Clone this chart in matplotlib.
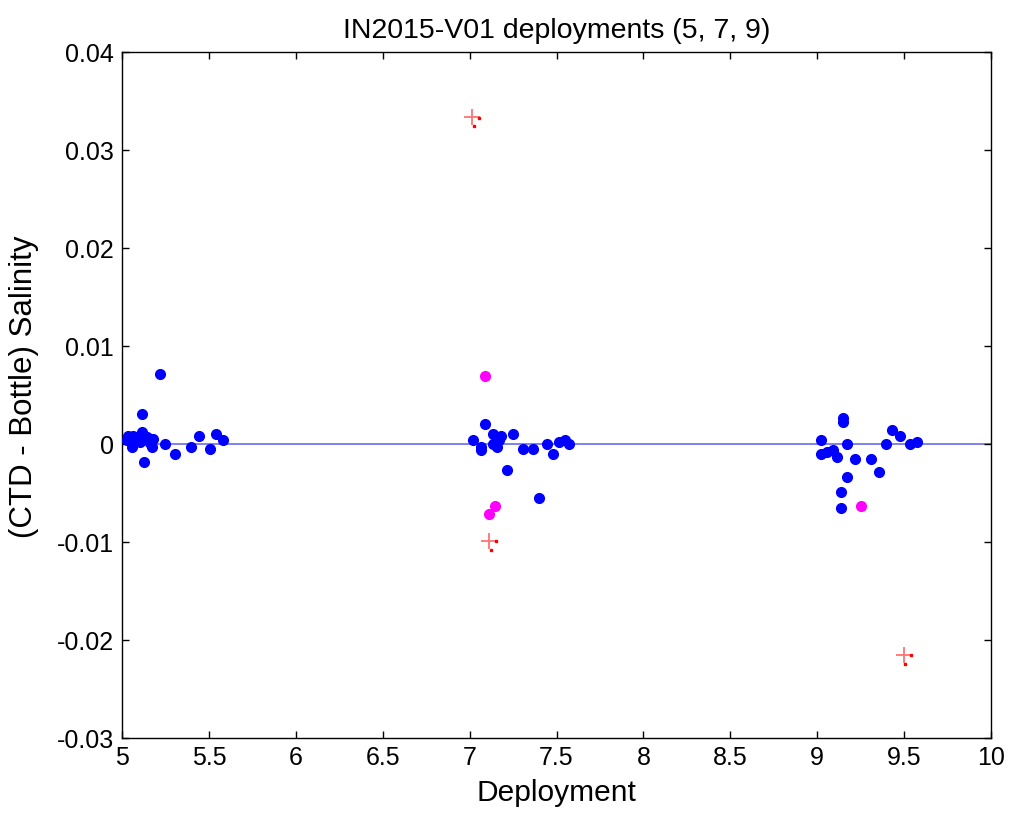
import matplotlib
matplotlib.use("Agg")
import matplotlib.pyplot as plt
import matplotlib.transforms as mtransforms
import numpy as np

plt.rcParams['font.family'] = ['Liberation Sans', 'DejaVu Sans']

# good samples (blue)
good_x = [5.219, 5.117, 5.036, 5.062, 5.027, 5.059, 5.085, 5.117, 5.142, 5.180,
          5.175, 5.129, 5.249, 5.307, 5.397, 5.441, 5.508, 5.543, 5.580, 5.104, 5.160,
          7.087, 7.018, 7.064, 7.064, 7.133, 7.179, 7.171, 7.133, 7.160, 7.248,
          7.213, 7.305, 7.362, 7.443, 7.477, 7.512, 7.549, 7.570, 7.397,
          9.147, 9.147, 9.020, 9.020, 9.055, 9.089, 9.115, 9.169, 9.217, 9.307,
          9.172, 9.353, 9.137, 9.137, 9.396, 9.431, 9.477, 9.534, 9.572]
good_y = [0.00716, 0.00308, 0.00077, 0.00077, 0.00036, -0.00026, 0.00036, 0.00120, 0.00070, 0.00050,
          -0.00026, -0.00186, -0.00005, -0.00107, -0.00026, 0.00077, -0.00046, 0.00104, 0.00036, 0.00020, 0.00010,
          0.00206, 0.00036, -0.00026, -0.00066, 0.00104, 0.00077, 0.00043, -0.00005, -0.00033, 0.00104,
          -0.00263, -0.00046, -0.00046, -0.00005, -0.00107, 0.00022, 0.00043, -0.00005, -0.00549,
          0.00267, 0.00222, 0.00036, -0.00107, -0.00084, -0.00059, -0.00128, 0.00002, -0.00148, -0.00148,
          -0.00332, -0.00288, -0.00492, -0.00651, 0.00002, 0.00145, 0.00077, -0.00005, 0.00018]

# questionable samples (magenta)
flag_x = [7.087, 7.144, 7.110, 9.253]
flag_y = [0.00696, -0.00635, -0.00716, -0.00635]

# rejected samples (red crosses)
bad_x = [7.014, 7.112, 9.499]
bad_y = [0.03335, -0.00985, -0.02151]

xticks = [5, 5.5, 6, 6.5, 7, 7.5, 8, 8.5, 9, 9.5, 10]
xticklabels = ['5', '5.5', '6', '6.5', '7', '7.5', '8', '8.5', '9', '9.5', '10']
yticks = [-0.03, -0.02, -0.01, 0, 0.01, 0.02, 0.03, 0.04]
yticklabels = ['-0.03', '-0.02', '-0.01', '0', '0.01', '0.02', '0.03', '0.04']

fig = plt.figure(figsize=(10.11, 8.21), dpi=100)
ax = fig.add_axes([122 / 1011, 1 - 738 / 821, (991 - 122) / 1011, (738 - 52) / 821])

ax.axhline(0, color='#6a6af0', lw=1.2, zorder=1)
ax.plot(good_x, good_y, 'o', color='#0000ff', ms=7, mec='#0000ff', zorder=3)
ax.plot(flag_x, flag_y, 'o', color='#ff00ff', ms=7, mec='#ff00ff', zorder=3)
ax.plot(bad_x, bad_y, '+', color='#ff0000', ms=12, mew=1.3, alpha=0.55, zorder=4)
# little solid ticks MATLAB leaves next to each cross
off1 = mtransforms.offset_copy(ax.transData, fig=fig, x=7, y=-0.5, units='dots')
off2 = mtransforms.offset_copy(ax.transData, fig=fig, x=1.5, y=-9, units='dots')
ax.plot(bad_x, bad_y, 's', color='#ff0000', ms=1.5, transform=off1, zorder=4)
ax.plot(bad_x, bad_y, 's', color='#ff0000', ms=1.5, transform=off2, zorder=4)

ax.set_xlim(5, 10)
ax.set_ylim(-0.03, 0.04)
ax.set_xticks(xticks)
ax.set_xticklabels(xticklabels)
ax.set_yticks(yticks)
ax.set_yticklabels(yticklabels)
ax.tick_params(direction='in', top=True, right=True, length=5, width=1, labelsize=18)
ax.tick_params(axis='x', pad=6)
ax.tick_params(axis='y', pad=6)
for s in ax.spines.values():
    s.set_linewidth(1)

ax.set_xlabel('Deployment', fontsize=21.5, labelpad=6)
ax.set_ylabel('(CTD - Bottle) Salinity', fontsize=22.5)
ax.yaxis.set_label_coords(-0.095, 0.512)
ax.set_title('IN2015-V01 deployments (5, 7, 9)', fontsize=20.5, pad=10)

fig.savefig('out.png', dpi=100)
